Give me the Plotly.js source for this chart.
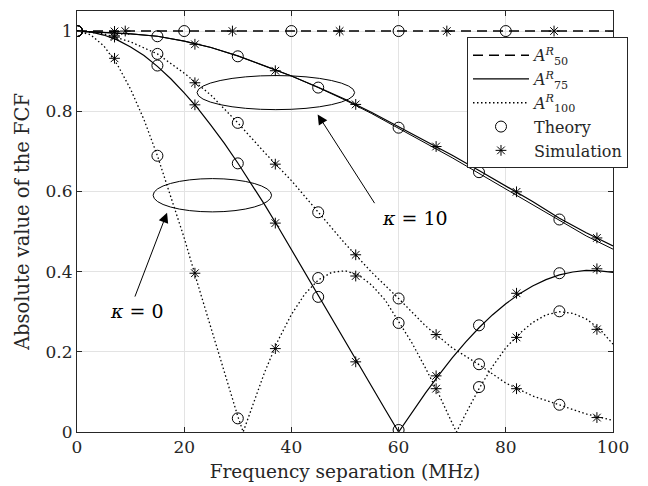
<!DOCTYPE html>
<html>
<head>
<meta charset="utf-8">
<script src="https://cdn.plot.ly/plotly-3.0.1.min.js"></script>
<style>html,body{margin:0;padding:0;background:#fff;}</style>
</head>
<body>
<div id="chart" style="width:648px;height:486px;"></div>
<script>
// ---- Data ----
const freqA50 = [0, 100];
const a50Line = [1, 1];

const freq5 = [0,5,10,15,20,25,30,35,40,45,50,55,60,65,70,75,80,85,90,95,100];
const a75k10LineA = [1,0.997,0.993,0.987,0.975,0.959,0.938,0.913,0.888,0.860,0.830,0.797,0.762,0.726,0.690,0.652,0.614,0.575,0.533,0.497,0.464];
const a75k10LineB = [1,0.997,0.993,0.987,0.975,0.959,0.938,0.913,0.888,0.859,0.828,0.794,0.758,0.721,0.684,0.645,0.606,0.566,0.526,0.489,0.456];
const a100k10Line = [1,0.993,0.973,0.943,0.895,0.840,0.771,0.697,0.627,0.549,0.470,0.398,0.333,0.265,0.210,0.168,0.122,0.090,0.068,0.045,0.029];

const freq25 = [0,2.5,5,7.5,10,12.5,15,17.5,20,22.5,25,27.5,30,32.5,35,37.5,40,42.5,45,47.5,50,52.5,55,57.5,60,62.5,65,67.5,70,72.5,75,77.5,80,82.5,85,87.5,90,92.5,95,97.5,100];
const a75k0Line = [1,0.998,0.990,0.978,0.960,0.939,0.912,0.881,0.846,0.808,0.765,0.720,0.671,0.620,0.567,0.512,0.455,0.398,0.340,0.282,0.224,0.167,0.110,0.056,0.000,0.049,0.097,0.142,0.185,0.224,0.260,0.292,0.320,0.344,0.364,0.380,0.392,0.399,0.403,0.402,0.398];

const freqA100k0 = [0,2.5,5,7.5,10,12.5,15,17.5,20,22.5,25,27.5,30,31,32.5,35,37.5,40,42.5,45,47.5,50,52.5,55,57.5,60,62.5,65,67.5,70,70.8,72.5,75,77.5,80,82.5,85,87.5,90,92.5,95,97.5,100];
const a100k0Line = [1,0.991,0.963,0.917,0.855,0.779,0.689,0.589,0.484,0.370,0.259,0.148,0.039,0.000,0.058,0.149,0.228,0.293,0.344,0.379,0.398,0.402,0.392,0.366,0.329,0.276,0.222,0.160,0.094,0.022,0.000,0.045,0.108,0.163,0.210,0.245,0.273,0.292,0.300,0.296,0.282,0.257,0.219];

const freqTheoryA50 = [0,20,40,60,80];
const a50Theory = [1,1,1,1,1];
const freqSimA50 = [9,29,49,69,89];
const a50Sim = [1,1,1,1,1];

const freqTheory = [0,15,30,45,60,75,90];
const a75k10Theory = [1,0.987,0.937,0.859,0.759,0.648,0.530];
const a75k0Theory = [1,0.914,0.670,0.337,0.005,0.266,0.396];
const a100k10Theory = [1,0.943,0.771,0.548,0.333,0.169,0.068];
const a100k0Theory = [1,0.689,0.034,0.384,0.272,0.112,0.301];

const freqSim = [7,22,37,52,67,82,97];
const a75k10Sim = [0.999,0.967,0.901,0.817,0.712,0.599,0.484];
const a75k0Sim = [0.985,0.816,0.521,0.175,0.140,0.346,0.407];
const a100k10Sim = [0.988,0.871,0.668,0.442,0.243,0.108,0.036];
const a100k0Sim = [0.932,0.396,0.208,0.389,0.108,0.236,0.256];

const legendNames = ['<i>A</i><sup><i>R</i></sup><sub>50</sub>','<i>A</i><sup><i>R</i></sup><sub>75</sub>','<i>A</i><sup><i>R</i></sup><sub>100</sub>','Theory','Simulation'];

// ---- Styles ----
const FONT = 'DejaVu Serif';
const black = '#000000';
const dashStyle = '10px,6px';
const dotStyle = '1.5px,2.5px';
function lineTrace(x, y, dash, width, name, show){
  return {x:x, y:y, type:'scatter', mode:'lines', name:name||'', showlegend:!!show,
    line:{color:black, width:width, dash:dash}, hoverinfo:'skip'};
}
function markTrace(x, y, sym, size, name, show){
  return {x:x, y:y, type:'scatter', mode:'markers', name:name||'', showlegend:!!show,
    marker:{symbol:sym, size:size, color:black, line:{color:black, width:1}}, hoverinfo:'skip'};
}

const traces = [
  lineTrace(freqA50, a50Line, dashStyle, 1.5, legendNames[0], true),
  lineTrace(freq5, a75k10LineA, 'solid', 1.2, legendNames[1], true),
  lineTrace(freq5, a100k10Line, dotStyle, 1.3, legendNames[2], true),
  markTrace(freqTheoryA50, a50Theory, 'circle-open', 11, legendNames[3], true),
  markTrace(freqSimA50, a50Sim, 'asterisk-open', 9, legendNames[4], true),
  lineTrace(freq5, a75k10LineB, 'solid', 1.0),
  lineTrace(freq25, a75k0Line, 'solid', 1.2),
  lineTrace(freqA100k0, a100k0Line, dotStyle, 1.3),
  markTrace(freqTheory, a75k10Theory, 'circle-open', 11),
  markTrace(freqTheory, a75k0Theory, 'circle-open', 11),
  markTrace(freqTheory, a100k10Theory, 'circle-open', 11),
  markTrace(freqTheory, a100k0Theory, 'circle-open', 11),
  markTrace(freqSim, a75k10Sim, 'asterisk-open', 9),
  markTrace(freqSim, a75k0Sim, 'asterisk-open', 9),
  markTrace(freqSim, a100k10Sim, 'asterisk-open', 9),
  markTrace(freqSim, a100k0Sim, 'asterisk-open', 9)
];

const axisCommon = {
  ticks:'inside', ticklen:5, tickwidth:1, tickcolor:'#262626',
  mirror:'ticks', showline:true, linecolor:'#262626', linewidth:1,
  showgrid:true, gridcolor:'#e3e3e3', gridwidth:1, zeroline:false,
  tickfont:{family:FONT, size:17, color:'#262626'}
};

const layout = {
  width:648, height:486,
  margin:{l:77, r:35, t:11, b:54},
  paper_bgcolor:'#ffffff', plot_bgcolor:'#ffffff',
  font:{family:FONT, color:'#262626', size:17},
  xaxis:Object.assign({}, axisCommon, {
    range:[0,100], tick0:0, dtick:20,
    title:{text:'Frequency separation (MHz)', font:{family:FONT, size:18.5, color:'#262626'}, standoff:8}
  }),
  yaxis:Object.assign({}, axisCommon, {
    range:[0,1.05], tick0:0, dtick:0.2,
    title:{text:'Absolute value of the FCF', font:{family:FONT, size:19.5, color:'#262626'}, standoff:10}
  }),
  legend:{
    x:0.7276, y:0.9376, xanchor:'left', yanchor:'top',
    bgcolor:'#ffffff', bordercolor:'#262626', borderwidth:1,
    font:{family:FONT, size:16, color:'#262626'},
    itemwidth:56, tracegroupgap:0
  },
  shapes:[
    {type:'circle', xref:'x', yref:'y', x0:22.4, x1:51.8, y0:0.804, y1:0.889, line:{color:black, width:1}},
    {type:'circle', xref:'x', yref:'y', x0:14.2, x1:36.3, y0:0.549, y1:0.632, line:{color:black, width:1}}
  ],
  annotations:[
    {x:44.9, y:0.792, ax:55.7, ay:0.567, axref:'x', ayref:'y', xref:'x', yref:'y', text:'', showarrow:true,
     arrowhead:2, arrowsize:2, arrowwidth:1, arrowcolor:black},
    {x:16.8, y:0.547, ax:10.7, ay:0.334, axref:'x', ayref:'y', xref:'x', yref:'y', text:'', showarrow:true,
     arrowhead:2, arrowsize:2, arrowwidth:1, arrowcolor:black},
    {x:63.0, y:0.534, xref:'x', yref:'y', text:'<i>κ</i> = 10', showarrow:false,
     font:{family:FONT, size:19, color:black}},
    {x:11.2, y:0.302, xref:'x', yref:'y', text:'<i>κ</i> = 0', showarrow:false,
     font:{family:FONT, size:19, color:black}}
  ]
};

Plotly.newPlot('chart', traces, layout, {staticPlot:true, displayModeBar:false});
</script>
</body>
</html>
